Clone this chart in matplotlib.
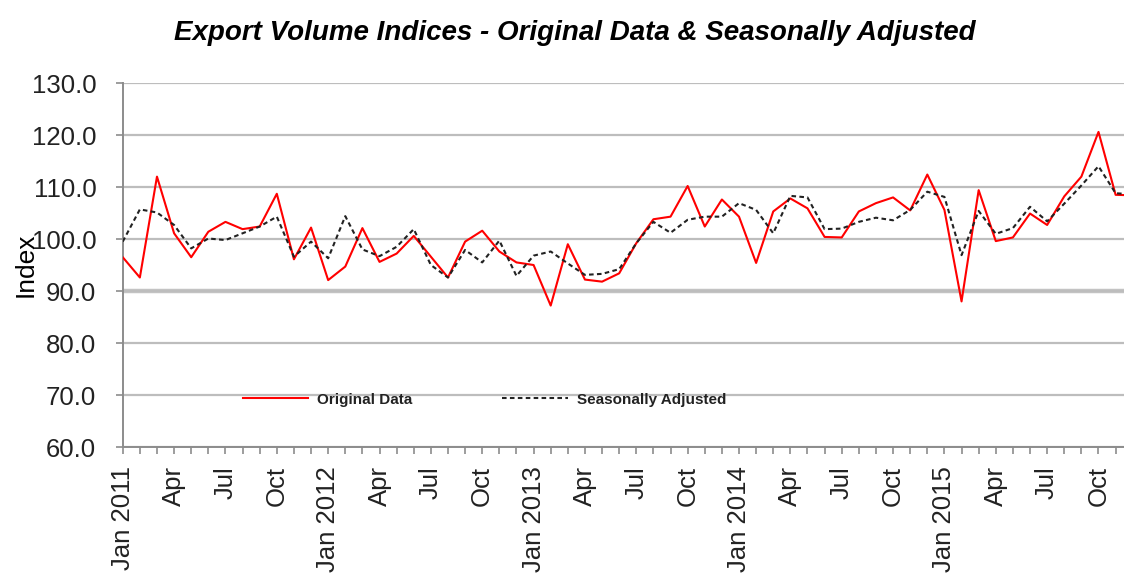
import matplotlib
matplotlib.use("Agg")
import matplotlib.pyplot as plt

# Monthly export volume indices, Jan 2011 - Dec 2015
months = ["Jan", "Feb", "Mar", "Apr", "May", "Jun",
          "Jul", "Aug", "Sep", "Oct", "Nov", "Dec"]
years = [2011, 2012, 2013, 2014, 2015]

original = [
    96.5, 92.6, 112.0, 101.1, 96.5, 101.4, 103.3, 101.9, 102.4, 108.7, 96.1, 102.2,
    92.1, 94.7, 102.1, 95.6, 97.2, 100.6, 96.6, 92.6, 99.5, 101.6, 97.6, 95.5,
    95.0, 87.2, 99.0, 92.2, 91.8, 93.4, 99.2, 103.8, 104.3, 110.2, 102.4, 107.6,
    104.3, 95.4, 105.3, 107.8, 105.9, 100.4, 100.3, 105.3, 106.9, 108.0, 105.5, 112.4,
    105.6, 88.0, 109.4, 99.6, 100.3, 104.9, 102.7, 108.2, 112.0, 120.6, 108.5, 108.4,
]
seasonal = [
    99.5, 105.7, 105.1, 102.7, 98.2, 100.1, 99.8, 101.1, 102.4, 104.3, 96.6, 99.5,
    96.3, 104.4, 98.0, 96.7, 98.5, 101.9, 95.0, 92.6, 97.9, 95.5, 99.7, 92.9,
    96.8, 97.6, 95.3, 93.1, 93.3, 94.2, 99.2, 103.3, 101.2, 103.7, 104.3, 104.3,
    106.9, 105.6, 101.1, 108.3, 108.0, 101.9, 102.0, 103.3, 104.1, 103.6, 105.6, 109.1,
    108.1, 96.9, 105.4, 101.0, 102.1, 106.2, 103.4, 106.8, 110.3, 114.0, 108.8, 108.6,
]

labels = []
for y in years:
    for m in months:
        labels.append(f"{m} {y}" if m == "Jan" else m)

x = list(range(len(original)))

fig = plt.figure(figsize=(11.24, 5.77), dpi=100)
ax = fig.add_axes([0.1092, 0.2253, 0.8908, 0.6308])

grid_col = "#bdbdbd"
ax.set_axisbelow(True)
ax.yaxis.grid(True, color=grid_col, lw=1.6)
ax.axhline(90, color="#c4c4c4", lw=3.2, zorder=0.5)

ax.plot(x, original, color="#ff0000", lw=1.5, label="Original Data", zorder=3)
ax.plot(x, seasonal, color="#222222", lw=1.5, ls=(0, (2.2, 1.6)),
        label="Seasonally Adjusted", zorder=4)

ax.set_yticks(range(60, 131, 10))
ax.set_yticklabels([f"{v:.1f}" for v in range(60, 131, 10)])
ax.set_xticks(x)
ax.set_xticklabels([lab if i % 3 == 0 else "" for i, lab in enumerate(labels)],
                   rotation=90)
# the chart is cut off just past Nov 2015
ax.set_ylim(60, 130)
ax.set_xlim(0, 58.49)

for s in ["top", "right"]:
    ax.spines[s].set_visible(False)
for s in ["left", "bottom"]:
    ax.spines[s].set_color("#8c8c8c")
    ax.spines[s].set_linewidth(1.4)

ax.tick_params(axis="both", colors="#8c8c8c", length=5, width=1.2,
               labelcolor="#222222", labelsize=18.5)
ax.tick_params(axis="x", pad=9)
ax.tick_params(axis="y", pad=14)
for t in ax.get_xticklabels() + ax.get_yticklabels():
    t.set_family("Liberation Sans")

ax.set_ylabel("Index", fontsize=19, family="Liberation Sans")
ax.yaxis.set_label_coords(-0.085, 0.5)

fig.suptitle("Export Volume Indices - Original Data & Seasonally Adjusted",
             x=0.511, y=0.965, fontsize=20, fontweight="bold", style="italic",
             family="Liberation Sans")

leg = ax.legend(ncol=2, loc="center left", bbox_to_anchor=(0.106, 0.13),
                frameon=False, handlelength=4.3, columnspacing=5.85,
                handletextpad=0.6,
                prop={"family": ["Liberation Sans Narrow", "Liberation Sans"],
                      "size": 11, "weight": "bold"})
for t in leg.get_texts():
    t.set_color("#222222")

fig.savefig("out.png", dpi=100)
